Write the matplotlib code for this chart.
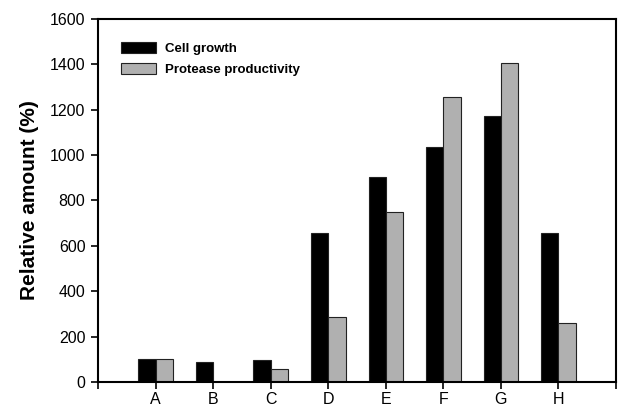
import matplotlib
matplotlib.use("Agg")
import matplotlib.pyplot as plt
import numpy as np
from matplotlib.patches import Patch

categories = ["A", "B", "C", "D", "E", "F", "G", "H"]
cell_growth = [100, 87, 96, 658, 903, 1036, 1171, 658]
protease_productivity = [100, 0, 59, 285, 748, 1256, 1406, 259]
yticks = [0, 200, 400, 600, 800, 1000, 1200, 1400, 1600]

plt.rcParams['font.family'] = ['Liberation Sans', 'DejaVu Sans']

fig = plt.figure(figsize=(6.21, 4.11), dpi=100)
ax = fig.add_axes([0.1578, 0.0706, 0.8342, 0.8832])

x = np.arange(len(categories))
w = 0.3
ax.bar(x, cell_growth, width=-w, align='edge', color='black', edgecolor='#222222', linewidth=0.8)
ax.bar(x, protease_productivity, width=w, align='edge', color='#b0b0b0', edgecolor='#222222', linewidth=0.8)

ax.set_xlim(-1, len(categories))
ax.set_ylim(0, 1600)
ax.set_yticks(yticks)
ax.set_yticklabels([str(v) for v in yticks], fontsize=11.5)
ax.set_xticks(list(range(-1, len(categories) + 1)))
ax.set_xticklabels([""] + categories + [""], fontsize=11.5)
ax.tick_params(direction='out', length=5, width=1.2)
ax.tick_params(axis='x', pad=2.5)
ax.tick_params(axis='y', pad=4)
for s in ax.spines.values():
    s.set_linewidth(1.5)

ax.set_ylabel("Relative amount (%)", fontsize=15, fontweight='bold', labelpad=8)

handles = [Patch(facecolor='black', edgecolor='#222222', linewidth=0.8),
           Patch(facecolor='#b0b0b0', edgecolor='#222222', linewidth=0.8)]
ax.legend(handles, ["Cell growth", "Protease productivity"], loc='upper left',
          bbox_to_anchor=(0.035, 0.95), frameon=False,
          prop={'weight': 'bold', 'size': 9.5}, handlelength=2.6, handleheight=0.9,
          handletextpad=0.7, labelspacing=0.55, borderaxespad=0)

fig.savefig("out.png", dpi=100)
